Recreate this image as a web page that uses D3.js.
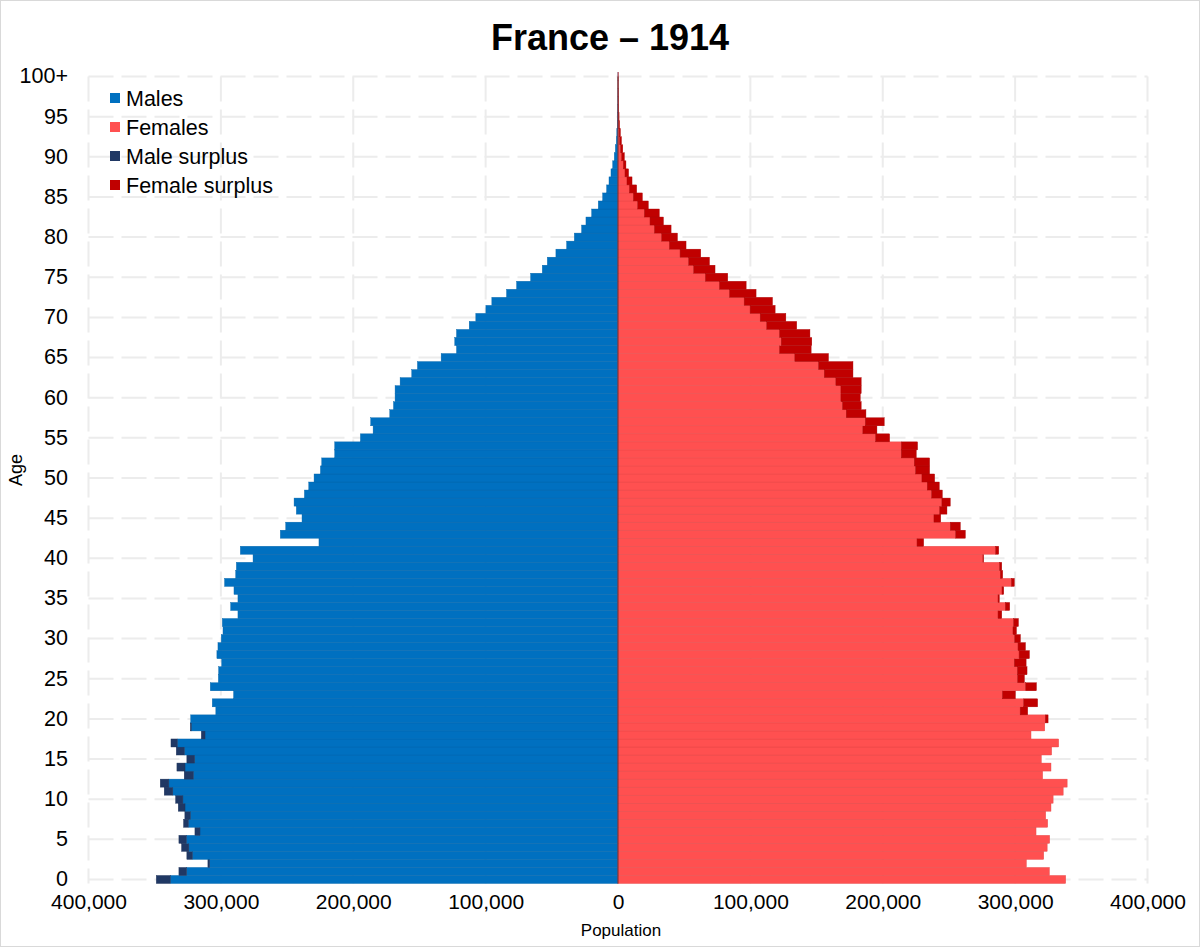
<!DOCTYPE html>
<html>
<head>
<meta charset="utf-8">
<script src="https://cdn.jsdelivr.net/npm/d3@7"></script>
<style>
html,body{margin:0;padding:0;background:#fff;}
svg{display:block;font-family:"Liberation Sans",Arial,sans-serif;}
</style>
</head>
<body>
<svg id="chart" width="1200" height="947"></svg>
<script>
// Ages 0..100 (100 = "100+")
const ages = d3.range(0, 101);
const males = [
348800,331700,309800,325700,329700,331700,319600,328200,327200,332200,
334200,342800,345800,327700,333200,325700,333700,337700,314800,323100,
322800,303800,306500,290400,308000,301900,301700,299400,303000,302200,
299700,298400,298900,287100,292600,287100,290100,297200,288800,288300,
275700,285300,225900,255100,251000,238700,243000,244700,236900,233600,
229600,224800,223800,214000,214000,194600,185000,186800,172400,169600,
168400,168400,164600,155800,151500,133600,122000,123300,122000,112400,
107400,99800,95300,84200,76600,66000,57200,53400,46900,38800,
33000,27500,24200,19900,14900,11600,8600,6800,5300,4000,
2800,2000,1300,900,600,400,250,150,100,50,
50];
const females = [
338200,325900,308500,321600,324200,326100,315800,324600,323100,327100,
328700,336300,339300,320800,327100,319800,327600,332900,312000,322400,
324900,309500,317000,300200,316100,307000,309000,308300,310800,307800,
304000,301000,302500,289900,295900,288100,291400,299400,290600,289900,
276200,287600,230900,262400,258600,243800,248500,251000,245000,242700,
239200,235400,235400,225300,226300,205200,195600,201100,187300,183700,
183000,183700,183700,177500,177500,159000,145900,146400,145000,135000,
126800,118700,116700,104300,96800,82900,73300,69100,62500,51400,
44900,40100,34300,31200,22900,18400,14100,10600,8000,6000,
4800,3600,2600,1800,1200,800,500,300,200,100,
100];
const xTicks = [-400000,-300000,-200000,-100000,0,100000,200000,300000,400000];
const yTicks = [0,5,10,15,20,25,30,35,40,45,50,55,60,65,70,75,80,85,90,95,100];
const legendItems = ["Males","Females","Male surplus","Female surplus"];
const colors = {"Males":"#0070c0","Females":"#ff5050","Male surplus":"#203864","Female surplus":"#c00000"};
const chartTitle = "France – 1914";

(function(){
const svg = d3.select("#chart");
const W = 1200, H = 947;
const pLeft = 88.5, pRight = 1147.5, pTop = 72.5, pBottom = 883.5;

svg.append("rect").attr("x",0.5).attr("y",0.5).attr("width",W-1).attr("height",H-1)
  .attr("fill","#fff").attr("stroke","#d9d9d9").attr("stroke-width",1);

const x = d3.scaleLinear().domain([-400000,400000]).range([pLeft,pRight]);
const y = d3.scaleBand().domain(ages).range([pBottom, pTop]).padding(0);
const bw = y.bandwidth();

// gridlines
const grid = svg.append("g").attr("stroke","#ececec").attr("stroke-width",2).attr("stroke-dasharray","25,8");
xTicks.forEach(t => {
  grid.append("line").attr("x1",x(t)).attr("x2",x(t)).attr("y1",pTop+4).attr("y2",pBottom);
});
yTicks.forEach(a => {
  const yy = y(a) + bw/2;
  grid.append("line").attr("x1",pLeft).attr("x2",pRight).attr("y1",yy).attr("y2",yy);
});

// bars
const data = ages.map((a,i) => ({age:a, m:males[i], f:females[i]}));
const bars = svg.append("g");
function bar(x0, x1, a, fill){
  const xa = Math.min(x(x0), x(x1)), xb = Math.max(x(x0), x(x1));
  bars.append("rect")
    .attr("x", xa).attr("y", y(a))
    .attr("width", Math.max(0, xb-xa)).attr("height", bw)
    .attr("fill", fill)
    .attr("stroke", d3.color(fill).darker(0.35))
    .attr("stroke-width", 0.4);
}
data.forEach(d => {
  const mn = Math.min(d.m, d.f);
  bar(0, -mn, d.age, colors["Males"]);
  if (d.m > d.f) bar(-d.f, -d.m, d.age, colors["Male surplus"]);
  bar(0, mn, d.age, colors["Females"]);
  if (d.f > d.m) bar(d.m, d.f, d.age, colors["Female surplus"]);
});

// center axis line
svg.append("line").attr("x1",x(0)).attr("x2",x(0)).attr("y1",pTop+4).attr("y2",pBottom)
  .attr("stroke","#7a3030").attr("stroke-width",1);

// y axis labels
const yAxis = d3.axisLeft(y).tickValues(yTicks).tickSize(0).tickPadding(0)
  .tickFormat(a => a === 100 ? "100+" : String(a));
const gy = svg.append("g").attr("transform","translate(68,0)").call(yAxis);
gy.select(".domain").remove();
gy.selectAll("text").attr("font-size",21.5).attr("fill","#000")
  .attr("font-family","'Liberation Sans',Arial,sans-serif");

// x axis labels
const xAxis = d3.axisBottom(x).tickValues(xTicks).tickSize(0).tickPadding(0)
  .tickFormat(v => d3.format(",")(Math.abs(v)));
const gx = svg.append("g").attr("transform","translate(0,894)").call(xAxis);
gx.select(".domain").remove();
gx.selectAll("text").attr("font-size",21).attr("fill","#000")
  .attr("font-family","'Liberation Sans',Arial,sans-serif");

// axis titles
svg.append("text").attr("x",621).attr("y",936).attr("text-anchor","middle")
  .attr("font-size",17).attr("fill","#000").text("Population");
svg.append("text").attr("transform","translate(22,470) rotate(-90)").attr("text-anchor","middle")
  .attr("font-size",18).attr("fill","#000").text("Age");

// title
svg.append("text").attr("x",610).attr("y",50).attr("text-anchor","middle")
  .attr("font-size",36).attr("font-weight","bold").attr("fill","#000").text(chartTitle);

// legend
const lg = svg.append("g");
legendItems.forEach((k,i) => {
  const cy = 98 + i*29;
  lg.append("rect").attr("x",110).attr("y",cy-5).attr("width",10).attr("height",10).attr("fill",colors[k]);
  lg.append("text").attr("x",126).attr("y",cy+7.5).attr("font-size",21.5).attr("fill","#000").text(k);
});
})();
</script>
</body>
</html>
